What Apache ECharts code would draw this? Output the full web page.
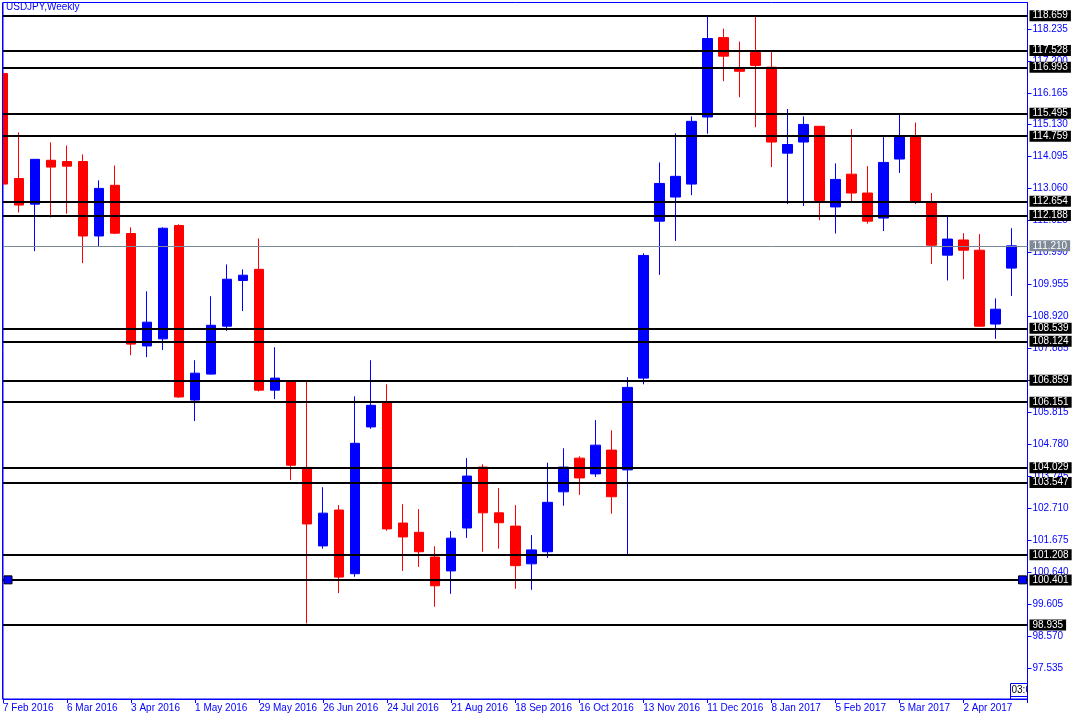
<!DOCTYPE html>
<html>
<head>
<meta charset="utf-8">
<script src="https://cdn.jsdelivr.net/npm/echarts@6/dist/echarts.min.js"></script>
<style>
html,body{margin:0;padding:0;background:#ffffff;}
#chart{width:1080px;height:720px;}
</style>
</head>
<body>
<div id="chart"></div>
<script>
// ---- Data ----
const titleText = 'USDJPY,Weekly';
const firstWeek = '2016-02-07';
const weekCount = 65; // 64 candles + one empty slot on the right

const opens  = [116.79,113.39,112.56,113.98,113.94,113.94,111.53,113.17,111.61,107.97,
                108.20,111.87,106.22,107.06,108.61,110.09,110.45,106.54,106.83,104.04,
                101.50,102.66,100.60,105.35,106.15,102.24,101.94,101.14,100.69,102.08,
                104.05,102.57,102.14,100.92,101.31,103.25,104.34,103.83,104.60,103.96,
                106.93,112.01,112.79,113.21,115.38,117.95,116.96,117.47,116.99,114.21,
                114.57,115.08,112.47,113.53,112.92,112.11,114.02,114.73,112.63,110.91,
                111.40,111.07,108.68,110.49];
const closes = [113.21,112.53,114.01,113.76,113.79,111.53,113.07,111.62,108.03,108.74,
                111.78,106.32,107.09,108.64,110.13,110.26,106.54,106.93,104.11,102.21,
                102.56,100.49,104.82,106.05,102.05,101.79,101.31,100.21,101.75,103.76,
                102.57,102.25,100.86,101.37,102.91,104.05,103.70,104.76,103.09,106.63,
                110.90,113.23,113.46,115.24,117.92,117.35,116.86,117.05,114.57,114.49,
                115.14,112.68,113.36,112.92,112.01,113.91,114.73,112.66,111.23,111.43,
                111.07,108.61,109.16,111.21];
const lows   = [113.05,112.29,111.04,112.13,112.25,110.65,111.20,111.59,107.67,107.61,
                107.84,106.29,105.54,107.04,108.46,109.10,106.50,106.25,103.63,98.99,
                101.41,99.97,100.50,105.29,101.99,100.69,100.82,99.53,99.95,101.76,
                101.31,101.41,100.11,100.08,101.11,102.80,103.15,103.73,102.54,101.18,
                106.73,110.27,111.37,112.85,114.84,116.54,116.02,115.05,113.76,112.56,
                112.50,112.04,111.61,112.60,111.93,111.69,113.57,112.56,110.62,110.09,
                110.13,108.59,108.20,109.59];
const highs  = [116.95,114.88,114.01,114.56,114.46,114.17,113.33,113.81,111.81,109.74,
                111.81,111.91,107.51,109.58,110.61,110.45,111.45,107.93,106.86,106.83,
                103.40,102.82,106.34,107.51,106.73,102.85,102.69,101.49,101.98,104.34,
                104.14,103.37,102.82,101.85,104.19,104.66,104.40,105.57,105.24,106.96,
                110.97,113.91,114.85,115.40,118.67,118.24,117.82,118.64,117.51,115.64,
                115.40,115.08,113.88,114.99,113.79,114.73,115.46,115.20,112.92,112.17,
                111.62,111.59,109.51,111.78];

const levelLines = [118.659,117.528,116.993,115.495,114.759,112.654,112.188,108.539,
                    108.124,106.859,106.151,104.029,103.547,101.208,100.401,98.935];
const selectedLevel = 100.401;
const bidPrice = 111.210;
const timerText = '03:0';

const yTicks = [97.535,98.570,99.605,100.640,101.675,102.710,103.745,104.780,105.815,
                106.850,107.885,108.920,109.955,110.990,112.025,113.060,114.095,115.130,
                116.165,117.200,118.235];
const yMin = 96.545, yMax = 119.086;

// ---- Categories (weekly) ----
const monthNames = ['Jan','Feb','Mar','Apr','May','Jun','Jul','Aug','Sep','Oct','Nov','Dec'];
const weeks = [];
{
  const d0 = new Date(firstWeek + 'T00:00:00Z');
  for (let i = 0; i < weekCount; i++) {
    const d = new Date(d0.getTime() + i * 7 * 86400000);
    weeks.push(i < opens.length ? (d.getUTCDate() + ' ' + monthNames[d.getUTCMonth()] + ' ' + d.getUTCFullYear()) : '');
  }
}

const ohlc = opens.map((o, i) => [o, closes[i], lows[i], highs[i]]);

const BLUE = '#0000ff', RED = '#ff0000';
const FONT = 'Liberation Sans';

const lineData = levelLines.map(v => ({
  yAxis: v,
  lineStyle: { color: '#000000', width: 2.2, type: 'solid' },
  label: { backgroundColor: '#000000', color: '#ffffff', formatter: v.toFixed(3) }
}));
lineData.push({
  yAxis: bidPrice,
  lineStyle: { color: '#778899', width: 1, type: 'solid' },
  label: { backgroundColor: '#7f8a99', color: '#ffffff', formatter: bidPrice.toFixed(3) }
});

const GL = 2.5, GR = 52.5, GT = 2.5, GB = 21;
const W = 1080, H = 720;

const chart = echarts.init(document.getElementById('chart'), null, { renderer: 'canvas' });
chart.setOption({
  animation: false,
  backgroundColor: '#ffffff',
  title: {
    text: titleText, left: 6, top: 2, padding: 0, z: 200,
    textStyle: { color: BLUE, fontSize: 10, fontWeight: 'normal', fontFamily: FONT }
  },
  grid: {
    left: GL, right: GR, top: GT, bottom: GB,
    show: true, borderColor: BLUE, borderWidth: 1, backgroundColor: '#ffffff'
  },
  xAxis: {
    type: 'category',
    data: weeks,
    boundaryGap: false,
    axisLine: { show: true, lineStyle: { color: BLUE, width: 1 } },
    axisTick: { show: true, interval: 3, length: 4, lineStyle: { color: BLUE } },
    axisLabel: { interval: 3, align: 'left', color: BLUE, fontSize: 10, fontFamily: FONT, margin: 4 },
    splitLine: { show: false }
  },
  yAxis: {
    type: 'value',
    position: 'right',
    min: yMin, max: yMax,
    axisLine: { show: true, lineStyle: { color: BLUE, width: 1 } },
    axisTick: { show: true, length: 4, customValues: yTicks, lineStyle: { color: BLUE } },
    axisLabel: {
      customValues: yTicks, color: BLUE, fontSize: 10, fontFamily: FONT, margin: 5,
      formatter: v => Number(v).toFixed(3)
    },
    splitLine: { show: false }
  },
  series: [{
    type: 'candlestick',
    data: ohlc,
    barWidth: 10,
    clip: true,
    itemStyle: {
      color: BLUE, color0: RED,
      borderColor: BLUE, borderColor0: RED,
      borderWidth: 1
    },
    emphasis: { disabled: true },
    markLine: {
      silent: true,
      symbol: 'none',
      animation: false,
      emphasis: { disabled: true },
      label: {
        show: true, position: 'end', distance: 2,
        fontSize: 10, fontFamily: FONT, padding: [1, 3, 0, 3]
      },
      data: lineData
    },
    markPoint: {
      silent: true,
      symbol: 'rect',
      symbolSize: 8,
      itemStyle: { color: BLUE, borderColor: '#000000', borderWidth: 1 },
      label: { show: false },
      data: [
        { coord: [0, selectedLevel], symbolOffset: [5, 0] },
        { coord: [weekCount - 1, selectedLevel], symbolOffset: [-5, 0] }
      ]
    }
  }],
  graphic: [
    // keep the chart frame clean on the left edge (clip the half-visible first candle)
    { type: 'rect', shape: { x: 0, y: 0, width: GL - 0.5, height: H - GB }, style: { fill: '#ffffff' }, z: 150, silent: true },
    { type: 'line', shape: { x1: GL, y1: GT, x2: GL, y2: H - GB }, style: { stroke: BLUE, lineWidth: 1 }, z: 151, silent: true },
    // bar-timer box at the bottom-right corner
    { type: 'rect', shape: { x: W - GR - 17, y: 683.5, width: 17, height: H - GB - 683.5 },
      style: { fill: '#ffffff', stroke: BLUE, lineWidth: 1 }, z: 150, silent: true },
    { type: 'line', shape: { x1: W - GR - 17, y1: 696.5, x2: W - GR, y2: 696.5 },
      style: { stroke: BLUE, lineWidth: 1 }, z: 151, silent: true },
    { type: 'text', x: W - GR - 16, y: 685, z: 152, silent: true,
      style: { text: timerText, fill: '#000000', font: '10px "Liberation Sans"' } },
    { type: 'rect', shape: { x: W - GR + 0.5, y: 684, width: 14, height: 11 }, style: { fill: '#ffffff' }, z: 153, silent: true }
  ]
});
</script>
</body>
</html>
